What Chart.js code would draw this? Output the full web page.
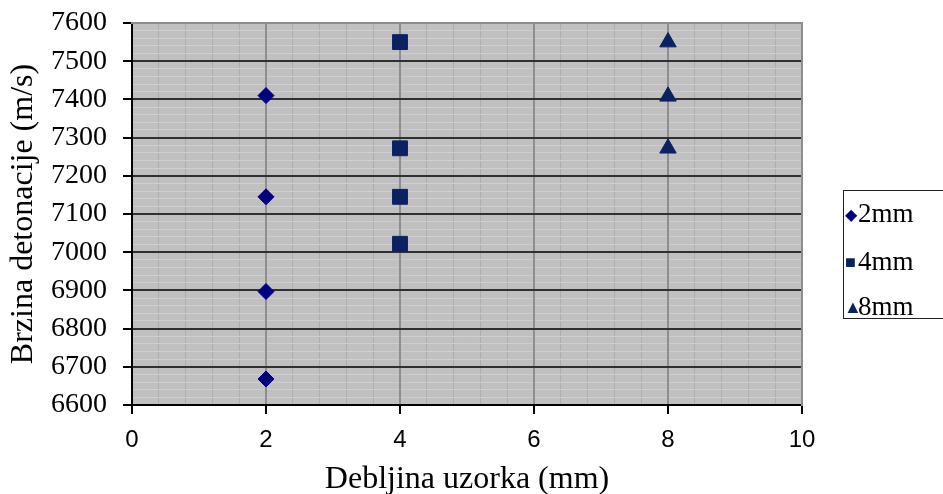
<!DOCTYPE html>
<html>
<head>
<meta charset="utf-8">
<script src="https://cdn.jsdelivr.net/npm/chart.js@4.4.0/dist/chart.umd.min.js"></script>
<style>
  html, body { margin: 0; padding: 0; background: #fff; }
  #wrap { position: relative; width: 943px; height: 494px; overflow: hidden; }
  #legend {
    position: absolute; left: 843px; top: 190px; width: 120px; height: 129px;
    border: 1px solid #222; box-sizing: border-box;
    font-family: "Liberation Serif", "Times New Roman", serif; font-size: 27px; color: #000;
  }
  #legend div { position: absolute; left: 0; white-space: nowrap; line-height: 30px; }
  #legend span.m { display: inline-block; width: 13px; text-align: center; margin-left: 0; margin-right: 1px; vertical-align: 2px; }
</style>
</head>
<body>
<div id="wrap">
  <canvas id="chart" width="943" height="494"></canvas>
  <div id="legend"></div>
</div>
<script>
// Data
const thicknessLabels = ['2mm', '4mm', '8mm'];
const x2mm = [2, 2, 2, 2];
const y2mm = [7410, 7145, 6897, 6668];
const x4mm = [4, 4, 4, 4];
const y4mm = [7550, 7272, 7145, 7022];
const x8mm = [8, 8, 8];
const y8mm = [7550, 7408, 7272];

const seriesX = [x2mm, x4mm, x8mm];
const seriesY = [y2mm, y4mm, y8mm];
const markerStyles = ['rectRot', 'rect', 'triangle'];
const markerRadius = [8, 10.5, 9.5];
const markerColors = ['#000080', '#0a2262', '#0a2262'];
const markerGlyphs = ['\u25C6', '\u25A0', '\u25B2'];

function toPoints(xs, ys) {
    return xs.map((x, i) => ({ x: x, y: ys[i] }));
}

// Gray plot area background
const plotBackground = {
    id: 'plotBackground',
    beforeDraw(chart) {
        const a = chart.chartArea;
        const ctx = chart.ctx;
        ctx.save();
        ctx.fillStyle = '#c0c0c0';
        ctx.fillRect(a.left, a.top, a.right - a.left, a.bottom - a.top);
        ctx.restore();
    }
};

const xTickFont = { family: '"Liberation Sans", Arial, sans-serif', size: 24, lineHeight: 1 };
const yTickFont = { family: '"Liberation Serif", "Times New Roman", serif', size: 28, lineHeight: 0.5 };
const xTitleFont = { family: '"Liberation Serif", "Times New Roman", serif', size: 32, lineHeight: 0.75 };
const yTitleFont = { family: '"Liberation Serif", "Times New Roman", serif', size: 32, lineHeight: 1 };

new Chart(document.getElementById('chart').getContext('2d'), {
    type: 'scatter',
    data: {
        datasets: thicknessLabels.map((label, i) => ({
            label: label,
            data: toPoints(seriesX[i], seriesY[i]),
            pointStyle: markerStyles[i],
            pointRadius: markerRadius[i],
            pointHoverRadius: markerRadius[i],
            backgroundColor: markerColors[i],
            borderColor: markerColors[i],
            borderWidth: 1,
            xAxisID: 'x',
            yAxisID: 'y'
        }))
    },
    options: {
        responsive: false,
        animation: false,
        layout: { padding: { left: 8, right: 141, top: 17, bottom: 2 } },
        plugins: {
            legend: { display: false },
            tooltip: { enabled: false }
        },
        scales: {
            x: {
                type: 'linear', min: 0, max: 10,
                afterFit: axis => { axis.height = 87; },
                ticks: { stepSize: 2, color: '#000', font: xTickFont, padding: 14, callback: v => String(v) },
                grid: { color: '#8e8e8e', lineWidth: 2, tickColor: '#000', tickLength: 9 },
                border: { color: '#000', width: 2 },
                title: { display: true, text: 'Debljina uzorka (mm)', color: '#000', font: xTitleFont, padding: { top: 0, bottom: 0 } }
            },
            y: {
                type: 'linear', min: 6600, max: 7600,
                afterFit: axis => { axis.width = 124; },
                ticks: { stepSize: 100, color: '#000', font: yTickFont, padding: 16, callback: v => String(v) },
                grid: { color: '#303030', lineWidth: 2, tickColor: '#000', tickLength: 9 },
                border: { color: '#000', width: 2 },
                title: { display: true, text: 'Brzina detonacije (m/s)', color: '#000', font: yTitleFont, padding: { top: 0, bottom: 0 } }
            },
            xMinor: {
                type: 'linear', position: 'top', min: 0, max: 10,
                ticks: { display: false, stepSize: 0.4 },
                grid: { color: '#adadad', lineWidth: 1, drawTicks: false, z: -2 },
                border: { color: '#8e8e8e', width: 2 }
            },
            yMinor: {
                type: 'linear', position: 'right', min: 6600, max: 7600,
                ticks: { display: false, stepSize: 20 },
                grid: { color: '#cecece', lineWidth: 1, drawTicks: false, z: -2 },
                border: { color: '#8e8e8e', width: 2 }
            }
        }
    },
    plugins: [plotBackground]
});

// Legend on the right
const legend = document.getElementById('legend');
const legendTops = [7, 55, 100];
thicknessLabels.forEach((label, i) => {
    const row = document.createElement('div');
    row.style.top = legendTops[i] + 'px';
    row.innerHTML = '<span class="m" style="color:' + markerColors[i] + ';font-size:' + (i === 0 ? 16 : 18) + 'px">' +
        markerGlyphs[i] + '</span>' + label;
    legend.appendChild(row);
});
</script>
</body>
</html>
